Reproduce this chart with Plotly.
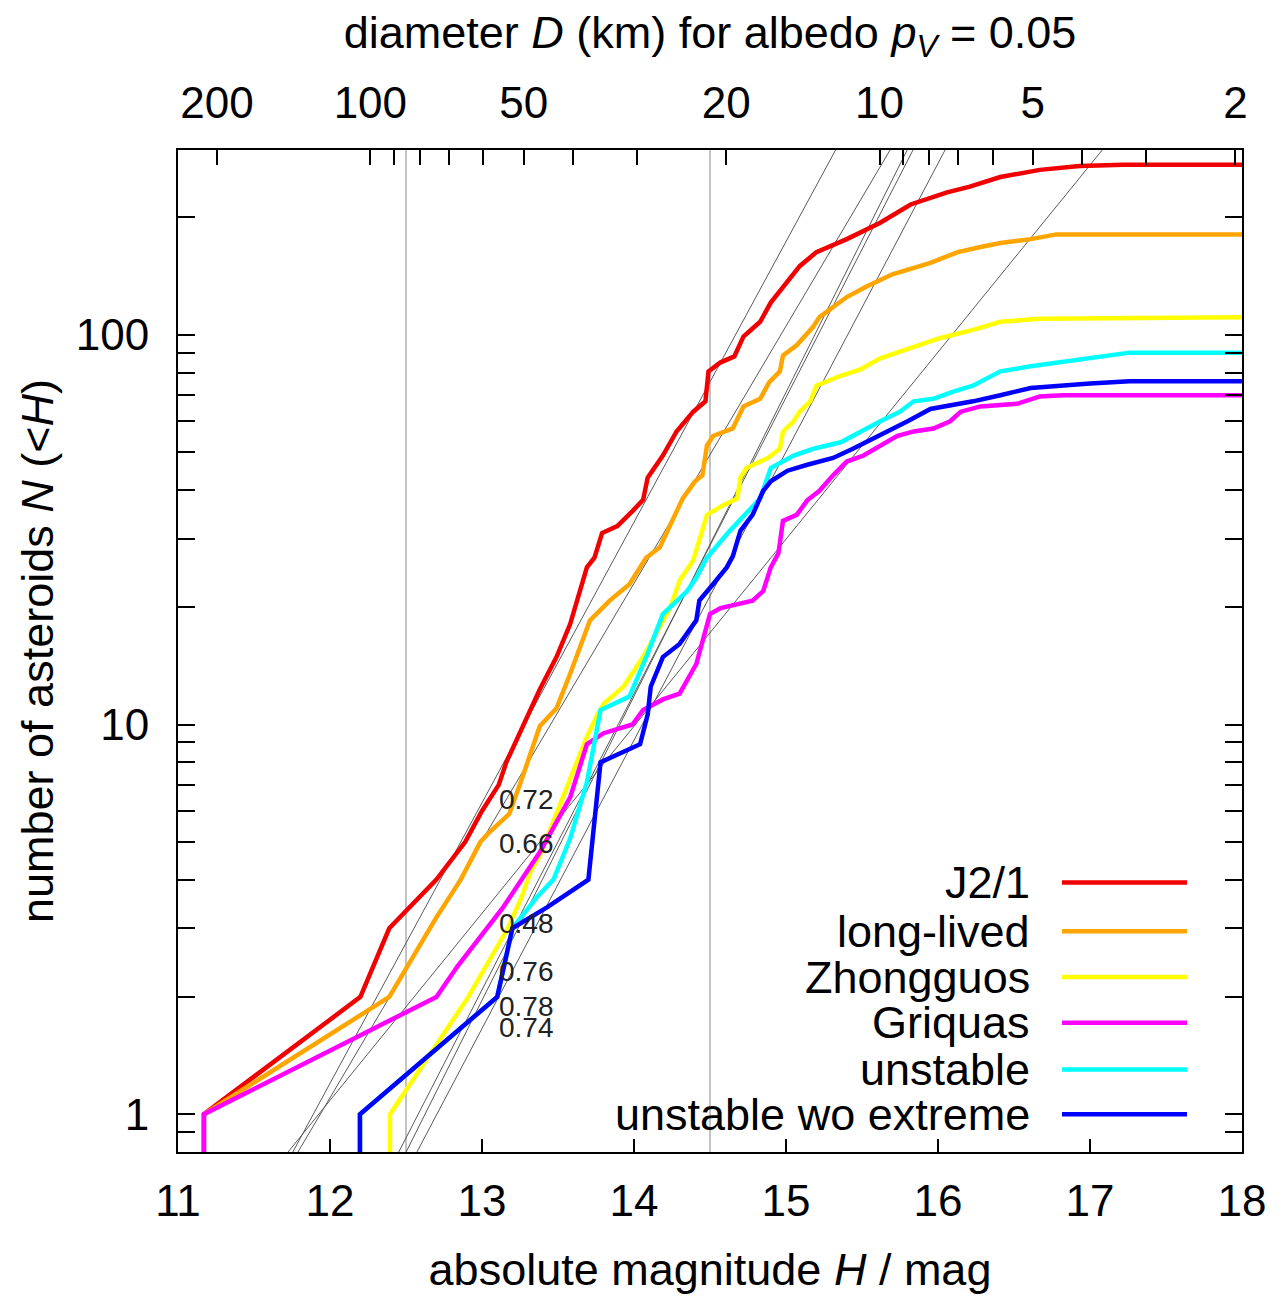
import numpy as np
import plotly.graph_objects as go

# Cumulative distributions N(<H) of each population (H in mag, N = count)
j21_h = [11.17, 11.17, 12.20, 12.39, 12.70, 12.89, 13.00, 13.11, 13.16, 13.22, 13.28, 13.38, 13.49,
         13.58, 13.69, 13.74, 13.79, 13.89, 13.99, 14.06, 14.09, 14.19, 14.28, 14.39, 14.47, 14.49,
         14.57, 14.66, 14.72, 14.83, 14.90, 14.98, 15.09, 15.20, 15.40, 15.62, 15.82, 16.06, 16.21,
         16.41, 16.67, 16.93, 17.22, 18.0]
j21_n = [0.5, 1, 2, 3, 4, 5, 6, 7, 8, 9, 10, 12.3, 14.9, 18.1, 25.3, 26.8, 31, 32.3, 35.3, 37.7,
         43, 49, 56.5, 63.5, 67.5, 80.5, 85, 88, 99, 108, 121, 133, 150, 163, 176, 194, 216, 232,
         240, 254, 265, 271, 273, 273]

long_h = [11.17, 11.17, 12.39, 12.51, 12.70, 12.86, 12.99, 13.05, 13.18, 13.27, 13.38, 13.49, 13.58,
          13.71, 13.84, 13.97, 14.08, 14.17, 14.22, 14.32, 14.40, 14.45, 14.48, 14.52, 14.65, 14.72,
          14.83, 14.89, 14.96, 14.98, 15.07, 15.18, 15.22, 15.31, 15.40, 15.53, 15.70, 15.95, 16.13,
          16.28, 16.41, 16.61, 16.78, 18.0]
long_n = [0.5, 1, 2, 2.4, 3.2, 4, 5, 5.3, 5.9, 7.4, 9.9, 11, 13.5, 18.5, 20.8, 22.9, 26.8, 28.5,
          31.4, 38, 42, 43.6, 52, 55, 57.5, 65.5, 68.5, 75.6, 80.6, 88.5, 94, 105, 111, 118, 125,
          133, 143, 153, 163, 168, 172, 176, 181, 181]

zhong_h = [12.395, 12.395, 12.91, 13.17, 13.26, 13.32, 13.38, 13.69, 13.76, 13.80, 13.93, 14.06,
           14.17, 14.24, 14.30, 14.39, 14.48, 14.59, 14.68, 14.70, 14.74, 14.88, 14.96, 14.98, 15.05,
           15.09, 15.16, 15.20, 15.36, 15.49, 15.62, 15.73, 15.88, 16.01, 16.23, 16.41, 16.67, 18.0]
zhong_n = [0.5, 1, 2, 3, 3.6, 4.2, 4.6, 9.3, 10.6, 11.3, 12.5, 14.9, 17.8, 20, 23.4, 26.4, 34.5,
           36.6, 38, 43, 45.5, 48.3, 51, 56.4, 60, 63.5, 67.5, 74, 78.5, 81.5, 87, 90, 94, 98, 103,
           108, 110, 111]

griq_h = [11.171, 11.171, 12.70, 12.84, 13.14, 13.38, 13.58, 13.69, 13.80, 13.99, 14.06, 14.19,
          14.30, 14.41, 14.50, 14.57, 14.78, 14.85, 14.90, 14.95, 14.98, 15.07, 15.14, 15.22, 15.31,
          15.40, 15.51, 15.62, 15.73, 15.84, 15.97, 16.08, 16.15, 16.28, 16.41, 16.52, 16.67, 16.82,
          18.0]
griq_n = [0.5, 1, 2, 2.4, 3.4, 4.7, 6.5, 8.9, 9.5, 10, 10.9, 11.6, 12, 14.3, 19.2, 19.9, 20.8, 22,
          25.3, 27.5, 33.3, 34.5, 37.6, 39.8, 43.6, 47.3, 49, 52, 55, 56.5, 57.5, 60, 63.5, 65.5,
          66, 66.5, 69.5, 70, 70]

unst_h = [12.197, 12.197, 13.10, 13.20, 13.36, 13.47, 13.58, 13.69, 13.78, 13.97, 14.09, 14.19,
          14.35, 14.41, 14.48, 14.63, 14.83, 14.90, 15.05, 15.18, 15.36, 15.49, 15.62, 15.75, 15.84,
          15.97, 16.10, 16.23, 16.32, 16.41, 16.61, 17.0, 17.26, 18.0]
unst_n = [0.5, 1, 2, 3, 3.6, 4, 5.1, 7.1, 10.9, 11.8, 15.2, 19.2, 22, 23.8, 26.8, 31.4, 38, 45.5,
          49, 51, 53, 56.5, 60, 63.5, 67.5, 68.5, 71.5, 74, 77.5, 80.6, 83, 87, 90, 90]

unwo_h = [12.197, 12.197, 13.10, 13.20, 13.43, 13.70, 13.78, 14.04, 14.09, 14.11, 14.19, 14.30,
          14.41, 14.43, 14.52, 14.61, 14.65, 14.70, 14.78, 14.85, 14.90, 15.01, 15.14, 15.31, 15.44,
          15.57, 15.70, 15.80, 15.95, 16.08, 16.23, 16.41, 16.61, 17.0, 17.26, 18.0]
unwo_n = [0.5, 1, 2, 3, 3.4, 4, 8, 8.9, 10.6, 12.5, 14.9, 16.1, 18.5, 20.8, 22.9, 25.3, 27, 31.4,
          34.5, 39.8, 42.1, 44.8, 46.4, 48.3, 51, 54, 57.5, 60, 64.5, 65.8, 67.5, 70, 73, 75, 76, 76]

series_names = ["J2/1", "long-lived", "Zhongguos", "Griquas", "unstable", "unstable wo extreme"]
series_colors = ["#f00000", "#ffa500", "#ffff00", "#ff00ff", "#00ffff", "#0000ff"]
series_h = [j21_h, long_h, zhong_h, griq_h, unst_h, unwo_h]
series_n = [j21_n, long_n, zhong_n, griq_n, unst_n, unwo_n]

# Power-law fits log10 N = slope * (H - h_one), fitted between H = 12.5 and 14.5
fit_slopes = [0.72, 0.66, 0.48, 0.76, 0.78, 0.74]
fit_h_one = [11.89, 11.936, 11.926, 12.58, 12.625, 12.703]
fit_label_n = [6.44, 4.94, 3.09, 2.32, 1.89, 1.67]
fit_label_h = 13.1
fit_range = [12.5, 14.5]

# Top axis: diameter for albedo 0.05
d_major = [200, 100, 50, 20, 10, 5, 2]
d_minor = [90, 80, 70, 60, 40, 30, 9, 8, 7, 6, 4, 3]


def h_of_d(d):
    return 11.257 + 3.35 * np.log10(200.0 / np.asarray(d, dtype=float))


FONT = "Liberation Sans, Arial, Helvetica, sans-serif"
FS = 45
TICK_FS = 44

fig = go.Figure()

h_line = np.array([11.0, 18.0])
for s, h1 in zip(fit_slopes, fit_h_one):
    fig.add_trace(go.Scatter(x=h_line, y=10 ** (s * (h_line - h1)), mode="lines",
                             line=dict(color="rgb(90,90,90)", width=1),
                             showlegend=False, hoverinfo="skip"))

for name, col, hh, nn in zip(series_names, series_colors, series_h, series_n):
    fig.add_trace(go.Scatter(x=hh, y=nn, mode="lines", name=name,
                             line=dict(color=col, width=4.5), showlegend=False))

# carrier trace for the top diameter axis
fig.add_trace(go.Scatter(x=[11, 18], y=[None, None], xaxis="x2", mode="lines",
                         showlegend=False, hoverinfo="skip"))

for h in fit_range:
    fig.add_shape(type="line", xref="x", yref="paper", x0=h, x1=h, y0=0, y1=1,
                  line=dict(color="rgb(195,195,195)", width=2), layer="below")

for s, n in zip(fit_slopes, fit_label_n):
    fig.add_annotation(x=fit_label_h, y=np.log10(n), xref="x", yref="y", text=f"{s:.2f}",
                       showarrow=False, xanchor="left", yanchor="middle",
                       font=dict(family=FONT, size=28, color="#222"))

# key: right-aligned names with line samples
plot_l, plot_r, plot_t, plot_b = 178, 1242, 150, 1158
key_rows = [887, 936, 982, 1028, 1075, 1120]
for name, col, py in zip(series_names, series_colors, key_rows):
    yp = (plot_b - py) / (plot_b - plot_t)
    fig.add_annotation(x=(1032 - plot_l) / (plot_r - plot_l), y=yp, xref="paper", yref="paper",
                       text=name, showarrow=False, xanchor="right", yanchor="middle",
                       font=dict(family=FONT, size=FS, color="black"))
    fig.add_shape(type="line", xref="paper", yref="paper",
                  x0=(1062 - plot_l) / (plot_r - plot_l), x1=(1187 - plot_l) / (plot_r - plot_l),
                  y0=yp, y1=yp, line=dict(color=col, width=4.5))

axis_common = dict(showgrid=False, zeroline=False, tickcolor="black", tickwidth=2,
                   tickfont=dict(family=FONT, size=TICK_FS, color="black"))

fig.update_layout(
    width=1279, height=1298,
    margin=dict(l=plot_l, r=1279 - plot_r, t=plot_t, b=1298 - plot_b),
    paper_bgcolor="white", plot_bgcolor="white",
    font=dict(family=FONT, size=FS, color="black"),
    xaxis=dict(range=[11, 18], tickvals=list(range(11, 19)), ticks="inside", ticklen=13,
               showline=True, linecolor="black", linewidth=2, mirror=True,
               ticklabelstandoff=9,
               title=dict(text="absolute magnitude <i>H</i> / mag", standoff=30,
                          font=dict(family=FONT, size=FS)),
               **axis_common),
    xaxis2=dict(range=[11, 18], overlaying="x", side="top", anchor="y",
                tickvals=list(h_of_d(d_major)), ticktext=[str(d) for d in d_major],
                ticks="inside", ticklen=15, showline=False, ticklabelstandoff=22,
                minor=dict(tickvals=list(h_of_d(d_minor)), ticks="inside", ticklen=15,
                           tickwidth=2, tickcolor="black"),
                title=dict(text="diameter <i>D</i> (km) for albedo <i>p</i><sub><i>V</i></sub> = 0.05",
                           standoff=15, font=dict(family=FONT, size=FS)),
                **axis_common),
    yaxis=dict(type="log", range=[np.log10(0.8), np.log10(298)], tickvals=[1, 10, 100],
               ticktext=["1", "10", "100"], ticks="inside", ticklen=17,
               showline=True, linecolor="black", linewidth=2, mirror="allticks",
               ticklabelstandoff=18,
               minor=dict(tickvals=[0.9] + [k for k in range(2, 10)] + [10 * k for k in range(2, 10)] + [200],
                          ticks="inside", ticklen=9, tickwidth=2, tickcolor="black"),
               title=dict(text="number of asteroids <i>N</i> (&lt;<i>H</i>)", standoff=8,
                          font=dict(family=FONT, size=FS)),
               **axis_common),
)

fig.write_html("out.html")
